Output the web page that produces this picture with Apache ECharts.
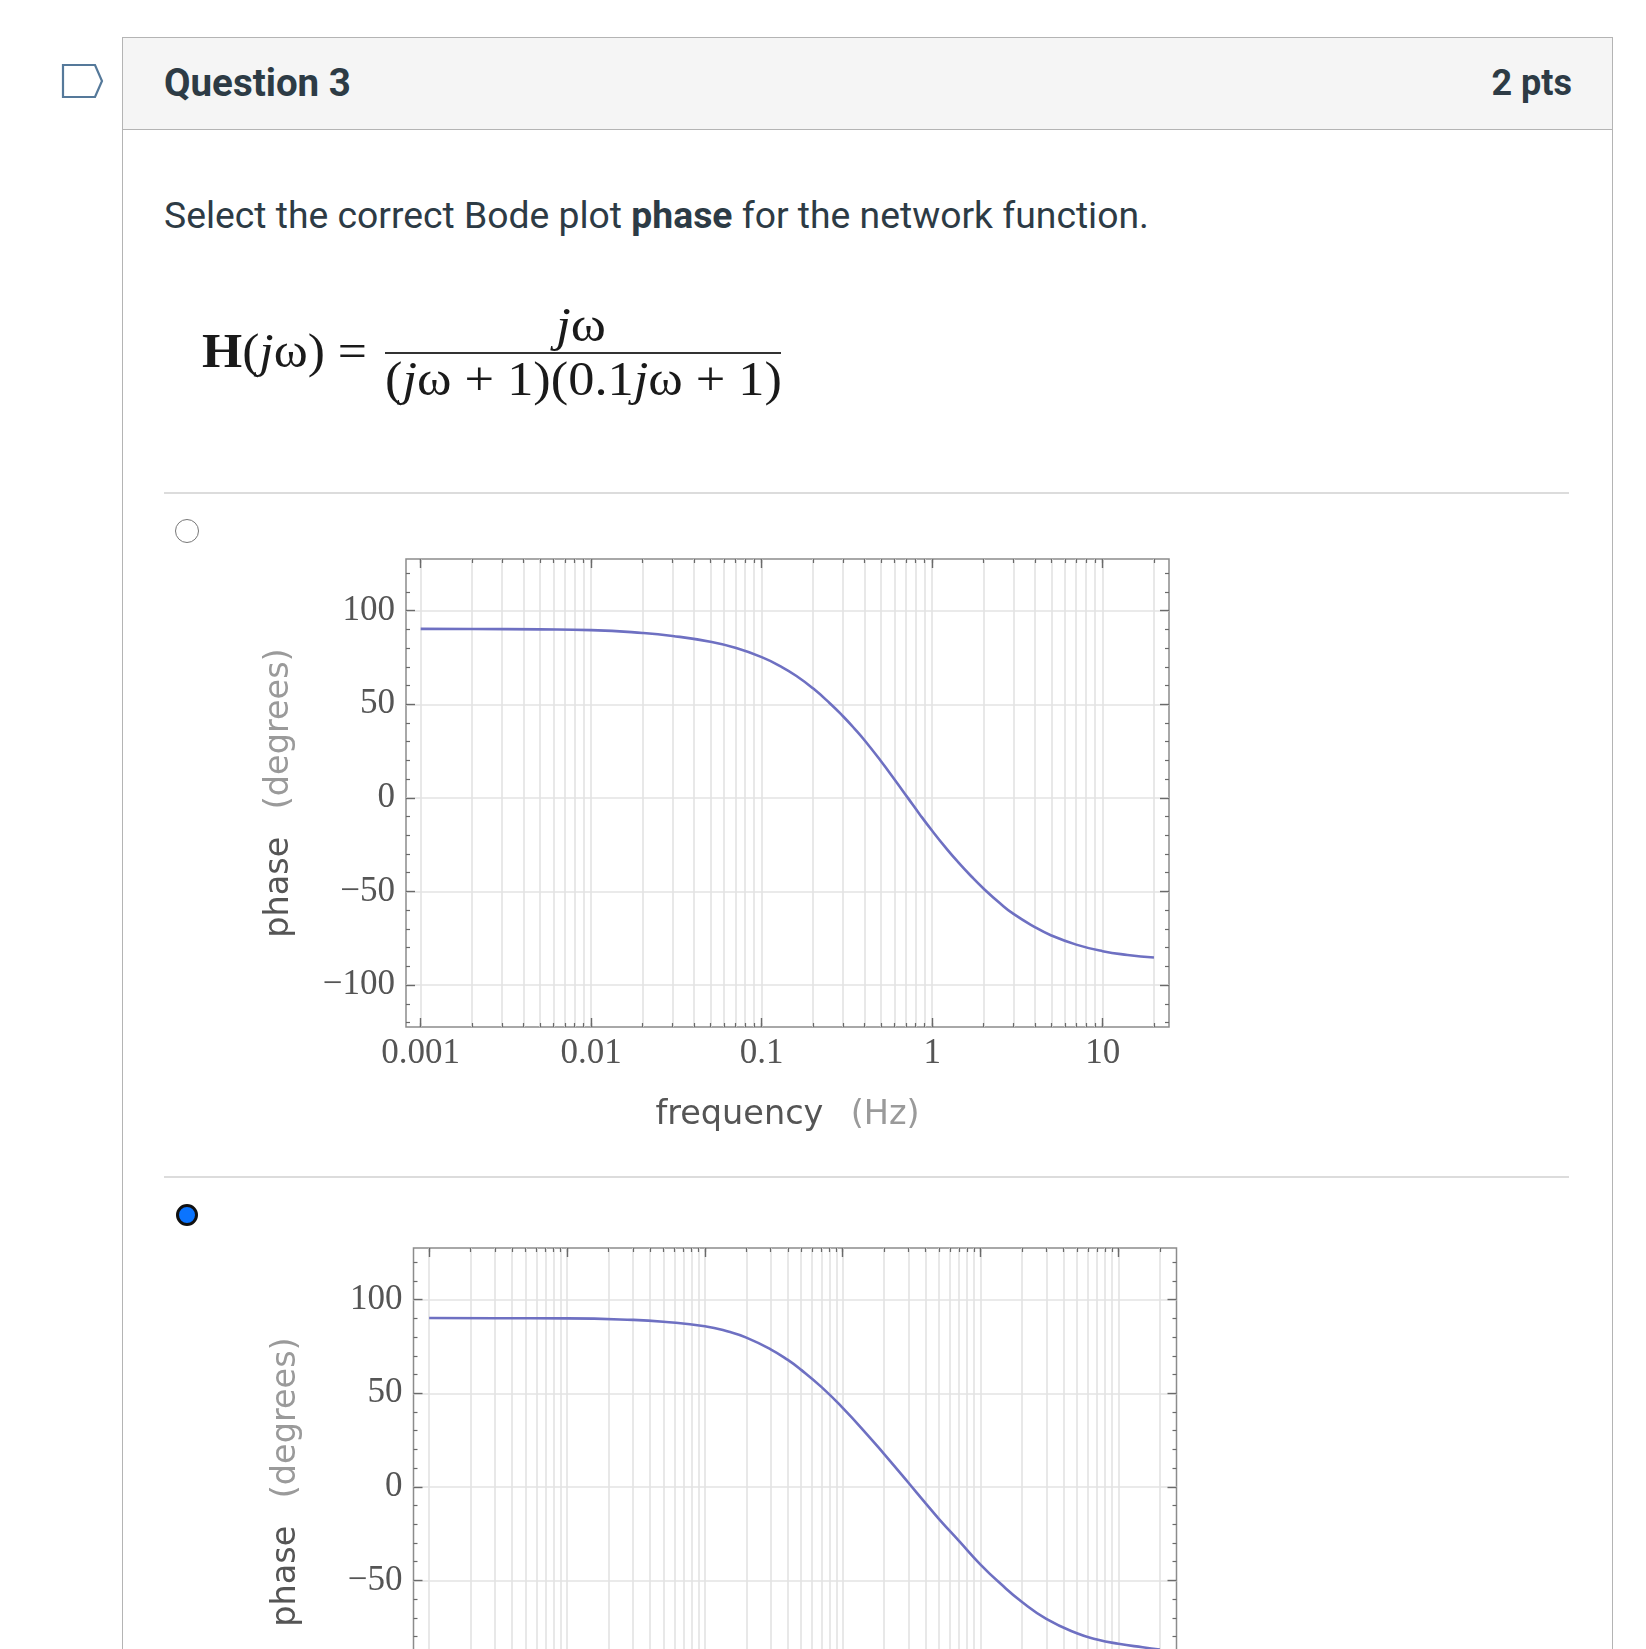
<!DOCTYPE html>
<html>
<head>
<meta charset="utf-8">
<script src="https://cdn.jsdelivr.net/npm/echarts@6/dist/echarts.min.js"></script>
<style>
  html, body { margin: 0; padding: 0; background: #fff; width: 1646px; height: 1649px; overflow: hidden; }
  body { position: relative; font-family: Roboto, "Noto Sans", sans-serif; color: #2d3b45; }
  .abs { position: absolute; }
  .box { left: 122px; top: 37px; width: 1491px; height: 1700px; border: 1.5px solid #b4b4b4; box-sizing: border-box; }
  .head { left: 123px; top: 38px; width: 1489px; height: 91px; background: #f5f5f5; border-bottom: 1.5px solid #b4b4b4; }
  .qtitle { left: 164px; top: 64px; font-size: 38.5px; line-height: 38px; font-weight: 700; }
  .pts { right: 74px; top: 65px; font-size: 36px; line-height: 37px; font-weight: 700; }
  .prompt { left: 164px; top: 195px; font-size: 37.3px; line-height: 40px; }
  .sep { left: 164px; width: 1405px; height: 0; border-top: 2px solid #dcdcdc; }
  .radio { width: 22px; height: 22px; border-radius: 50%; border: 1.5px solid #777; background: #fff; }
  .radio.on { width: 16px; height: 16px; border: 3.5px solid #111; background: #0a74ff; }
  .chart { width: 1000px; height: 600px; }
</style>
</head>
<body>
<svg class="abs" style="left:60px;top:62px" width="50" height="40">
  <polygon points="3,3 35,3 42,19 35,35 3,35" fill="#fff" stroke="#55799a" stroke-width="2.2"/>
</svg>
<div class="abs box"></div>
<div class="abs head"></div>
<div class="abs qtitle">Question 3</div>
<div class="abs pts">2 pts</div>
<div class="abs prompt">Select the correct Bode plot <b>phase</b> for the network function.</div>

<svg class="abs" style="left:0;top:280px" width="900" height="150">
  <g font-family="'Liberation Serif', 'DejaVu Serif', serif" fill="#1a1a1a" font-size="48">
    <text x="202" y="87" textLength="165" lengthAdjust="spacingAndGlyphs"><tspan font-weight="bold">H</tspan>(<tspan font-style="italic">j</tspan>ω) =</text>
    <text x="556" y="61" textLength="50" lengthAdjust="spacingAndGlyphs"><tspan font-style="italic">j</tspan>ω</text>
    <text x="385" y="115" textLength="397" lengthAdjust="spacingAndGlyphs">(<tspan font-style="italic">j</tspan>ω + 1)(0.1<tspan font-style="italic">j</tspan>ω + 1)</text>
  </g>
  <line x1="385" y1="73" x2="781" y2="73" stroke="#333" stroke-width="2"/>
</svg>

<div class="abs sep" style="top:492px"></div>
<div class="abs radio" style="left:175px;top:519px"></div>
<div class="abs chart" id="chart1" style="left:240px;top:540px"></div>

<div class="abs sep" style="top:1176px"></div>
<div class="abs radio on" style="left:176px;top:1204px"></div>
<div class="abs chart" id="chart2" style="left:240px;top:1229px"></div>

<script>
// option A (not selected): phase curve
var freq1 = [0.001, 0.002, 0.005, 0.01, 0.02, 0.03, 0.05, 0.07, 0.1, 0.13, 0.16, 0.2, 0.25, 0.3, 0.35, 0.4, 0.5, 0.6, 0.72, 0.85, 1, 1.2, 1.4, 1.7, 2, 2.5, 3, 4, 5, 7, 10, 14, 20];
var phase1 = [90.3, 90.2, 90, 89.6, 88.1, 86.5, 83.4, 80.2, 75.2, 70.1, 65.1, 58.5, 50.7, 43.6, 37, 30.9, 19.7, 10, 0, -9.1, -17.6, -26.6, -33.7, -42, -48.4, -56.3, -62, -69, -73.5, -78.4, -81.9, -83.9, -85.3];

// option B (selected): phase curve
var freq2 = [0.001, 0.003, 0.01, 0.03, 0.05, 0.1, 0.15, 0.2, 0.3, 0.4, 0.5, 0.7, 1, 1.5, 2, 3, 4, 5, 7, 10, 14, 20, 30, 50, 70, 100, 150, 200];
var phase2 = [90.2, 90.1, 90, 89.2, 88.2, 85.8, 82.8, 79.7, 73.5, 67.8, 62.5, 53.4, 42.2, 28.1, 17.5, 2.2, -8.8, -17.2, -29, -41.5, -51.8, -61.5, -70.5, -78.2, -81.5, -83.8, -85.7, -86.9];

// tick labels
var yMajor = [-100, -50, 0, 50, 100];
var yMinor = [-120, -110, -90, -80, -70, -60, -40, -30, -20, -10, 10, 20, 30, 40, 60, 70, 80, 90, 110, 120];
var decades1 = [0.001, 0.01, 0.1, 1, 10];
var decades2 = [0.001, 0.01, 0.1, 1, 10, 100];
var minorMult = [1, 2, 3, 4, 5, 6, 7, 8, 9];

var Y_MIN = -122.4, Y_MAX = 127.6;

var tickColor = '#6a6a6a';
var labelFont = "'Liberation Serif', 'DejaVu Serif', serif";

function gridValues(decades, xMax) {
  var out = [];
  decades.forEach(function (d) {
    minorMult.forEach(function (m) {
      var v = +(d * m).toPrecision(3);
      if (v <= xMax) out.push(v);
    });
  });
  return out;
}

function fmtY(v) {
  return v < 0 ? '\u2212' + Math.abs(v) : String(v);
}

var nameStyle = {
  fontFamily: 'DejaVu Sans', fontSize: 33.5,
  rich: {
    a: { fontFamily: 'DejaVu Sans', fontSize: 33.5, color: '#555' },
    b: { fontFamily: 'DejaVu Sans', fontSize: 33.5, color: '#9a9a9a', padding: [0, 0, 0, 6] }
  }
};

function makeOption(freq, phase, xMin, xMax, decades, gridLeft) {
  var allX = gridValues(decades, xMax);
  var xBase = {
    type: 'log', logBase: 10, min: xMin, max: xMax,
    axisLine: { show: false, onZero: false },
    axisLabel: { show: false },
    splitLine: { show: false }
  };
  var yBase = {
    type: 'value', min: Y_MIN, max: Y_MAX,
    axisLine: { show: false, onZero: false },
    axisLabel: { show: false },
    splitLine: { show: false }
  };
  var data = freq.map(function (f, i) { return [f, phase[i]]; });
  return {
    animation: false,
    backgroundColor: '#fff',
    grid: {
      left: gridLeft, top: 19, width: 763, height: 468,
      show: true, borderColor: '#8c8c8c', borderWidth: 1.5
    },
    xAxis: [
      Object.assign({}, xBase, {
        position: 'bottom',
        axisTick: { inside: true, length: 4, customValues: allX, lineStyle: { color: tickColor, width: 1.2 } },
        splitLine: { show: true, lineStyle: { color: '#e3e3e3', width: 1.6 } }
      }),
      Object.assign({}, xBase, {
        position: 'bottom',
        axisTick: { inside: true, length: 9, customValues: decades, lineStyle: { color: tickColor, width: 1.4 } },
        axisLabel: {
          show: true, customValues: decades, margin: 9,
          formatter: function (v) { return String(v); },
          fontFamily: labelFont, fontSize: 35, color: '#555'
        },
        name: '{a|frequency}  {b|(Hz)}',
        nameLocation: 'middle', nameGap: 71,
        nameTextStyle: nameStyle
      }),
      Object.assign({}, xBase, {
        position: 'top',
        axisTick: { inside: true, length: 4, customValues: allX, lineStyle: { color: tickColor, width: 1.2 } }
      }),
      Object.assign({}, xBase, {
        position: 'top',
        axisTick: { inside: true, length: 9, customValues: decades, lineStyle: { color: tickColor, width: 1.4 } }
      })
    ],
    yAxis: [
      Object.assign({}, yBase, {
        position: 'left',
        axisTick: { inside: true, length: 9, customValues: yMajor, lineStyle: { color: tickColor, width: 1.4 } },
        splitLine: { show: true, lineStyle: { color: '#e3e3e3', width: 1.6 } },
        axisLabel: {
          show: true, customValues: yMajor, margin: 11, formatter: fmtY,
          fontFamily: labelFont, fontSize: 35, color: '#555'
        },
        name: '{a|phase}  {b|(degrees)}',
        nameLocation: 'middle', nameGap: 110, nameRotate: 90,
        nameTextStyle: nameStyle
      }),
      Object.assign({}, yBase, {
        position: 'left',
        axisTick: { inside: true, length: 4, customValues: yMinor, lineStyle: { color: tickColor, width: 1.2 } }
      }),
      Object.assign({}, yBase, {
        position: 'right',
        axisTick: { inside: true, length: 9, customValues: yMajor, lineStyle: { color: tickColor, width: 1.4 } }
      }),
      Object.assign({}, yBase, {
        position: 'right',
        axisTick: { inside: true, length: 4, customValues: yMinor, lineStyle: { color: tickColor, width: 1.2 } }
      })
    ],
    series: [{
      type: 'line',
      xAxisIndex: 0, yAxisIndex: 0,
      data: data,
      smooth: 0.5,
      showSymbol: false,
      lineStyle: { color: '#6e70c2', width: 2.6 }
    }]
  };
}

var chart1 = echarts.init(document.getElementById('chart1'));
chart1.setOption(makeOption(freq1, phase1, 0.00082, 24.5, decades1, 166));

var chart2 = echarts.init(document.getElementById('chart2'));
chart2.setOption(makeOption(freq2, phase2, 0.00077, 264, decades2, 173.5));
</script>
</body>
</html>
